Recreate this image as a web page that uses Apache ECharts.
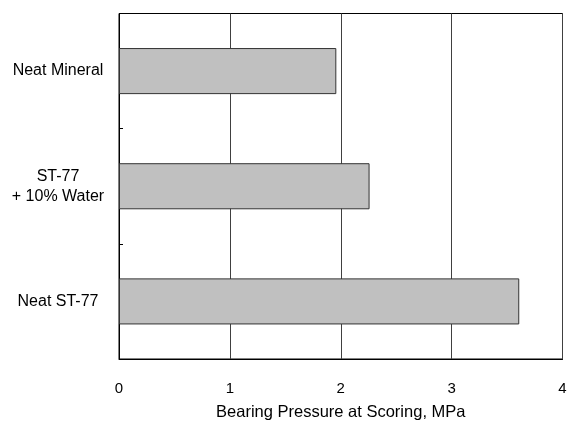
<!DOCTYPE html>
<html>
<head>
<meta charset="utf-8">
<script src="https://cdn.jsdelivr.net/npm/echarts@6/dist/echarts.min.js"></script>
<style>
  html, body { margin: 0; padding: 0; background: #fff; }
  #main { width: 569px; height: 422px; }
</style>
</head>
<body>
<div id="main"></div>
<script>
// categories top to bottom
const categories = ['Neat Mineral', 'ST-77\n+ 10% Water', 'Neat ST-77']
const pressure = [1.96, 2.26, 3.61] // MPa
const xTicks = [0, 1, 2, 3, 4]

const chart = echarts.init(document.getElementById('main'))
const font = 'Liberation Sans, Arial, sans-serif'

chart.setOption({
  animation: false,
  grid: {
    left: 119,
    top: 13.5,
    right: 6.5,
    bottom: 63,
    outerBoundsMode: 'none',
    show: true,
    borderColor: '#000',
    borderWidth: 1,
    backgroundColor: 'transparent'
  },
  xAxis: {
    type: 'value',
    min: xTicks[0],
    max: xTicks[xTicks.length - 1],
    interval: 1,
    name: 'Bearing Pressure at Scoring, MPa',
    nameLocation: 'middle',
    nameGap: 45,
    nameTextStyle: { color: '#000', fontSize: 16.5, fontFamily: font },
    axisLine: { show: true, lineStyle: { color: '#000' } },
    axisTick: { show: false },
    axisLabel: { color: '#000', fontSize: 15, fontFamily: font, margin: 22 },
    splitLine: { show: true, lineStyle: { color: '#404040', width: 1 } }
  },
  yAxis: {
    type: 'category',
    inverse: true,
    data: categories,
    axisLine: { show: true, lineStyle: { color: '#000' } },
    axisTick: { show: true, inside: true, length: 4, lineStyle: { color: '#000' } },
    axisLabel: {
      color: '#000',
      fontSize: 16,
      fontFamily: font,
      align: 'center',
      margin: 61,
      lineHeight: 20
    },
    splitLine: { show: false }
  },
  series: [
    {
      type: 'bar',
      data: pressure,
      barWidth: '40%',
      itemStyle: {
        color: '#c0c0c0',
        borderColor: '#333',
        borderWidth: 1
      }
    }
  ]
})
</script>
</body>
</html>
